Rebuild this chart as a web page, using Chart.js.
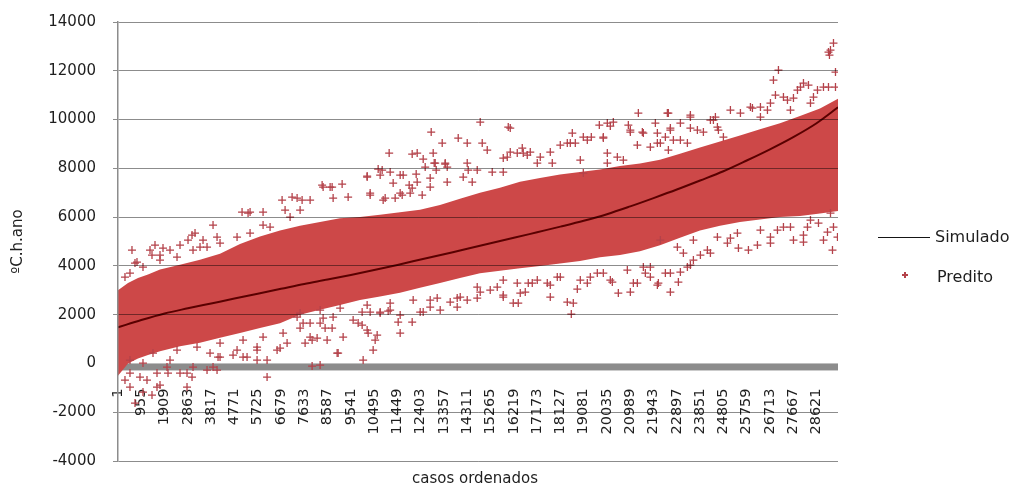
<!DOCTYPE html>
<html lang="pt">
<head>
<meta charset="utf-8">
<title>Simulado x Predito – casos ordenados</title>
<script src="https://cdn.jsdelivr.net/npm/chart.js@4.4.1/dist/chart.umd.min.js"></script>
<style>
  html, body { margin: 0; padding: 0; background: #fff; overflow: hidden; }
  #quadro { position: relative; width: 1013px; height: 486px; font-family: 'DejaVu Sans', sans-serif; color: #1e1e1e; }
  #grafico { position: absolute; left: 0; top: 0; }
  .rotulo { position: absolute; white-space: nowrap; }
  .leg-texto { font-size: 16px; line-height: 19px; }
  #leg-linha { position: absolute; left: 878px; top: 237px; width: 52px; border-top: 1.6px solid #151515; }
  #leg-cruz { position: absolute; left: 902px; top: 272px; width: 6px; height: 6px; }
  #leg-cruz::before, #leg-cruz::after { content: ''; position: absolute; background: #b4424a; }
  #leg-cruz::before { left: 0; top: 2.4px; width: 6px; height: 1.3px; }
  #leg-cruz::after { left: 2.4px; top: 0; width: 1.3px; height: 6px; }
  #titulo-x { left: 475px; top: 469px; transform: translateX(-50%); font-size: 15px; line-height: 18px; }
</style>
</head>
<body>
<div id="quadro">
  <canvas id="grafico" width="1013" height="486"></canvas>
  <div id="leg-linha"></div>
  <div class="rotulo leg-texto" style="left:935px; top:227px">Simulado</div>
  <div id="leg-cruz"></div>
  <div class="rotulo leg-texto" style="left:937px; top:267px">Predito</div>
  <div class="rotulo" id="titulo-x">casos ordenados</div>
</div>
<script>
// Casos com rótulo no eixo horizontal (um a cada 954 casos)
const ticksCasos = [1, 955, 1909, 2863, 3817, 4771, 5725, 6679, 7633, 8587, 9541,
  10495, 11449, 12403, 13357, 14311, 15265, 16219, 17173, 18127, 19081, 20035,
  20989, 21943, 22897, 23851, 24805, 25759, 26713, 27667, 28621];
const totalCasos = 29500;

// Curva simulada (ºC.h.ano) lida nos casos marcados e no último caso
const simuladoCasos = [1, 955, 1909, 2863, 3817, 4771, 5725, 6679, 7633, 8587, 9541,
  10495, 11449, 12403, 13357, 14311, 15265, 16219, 17173, 18127, 19081, 20035,
  20989, 21943, 22897, 23851, 24805, 25759, 26713, 27667, 28621, 29500];
const simuladoValores = [1480, 1780, 2050, 2260, 2460, 2660, 2860, 3060, 3260, 3440, 3630,
  3830, 4040, 4260, 4480, 4700, 4930, 5150, 5380, 5610, 5850, 6120,
  6440, 6780, 7130, 7500, 7880, 8320, 8780, 9280, 9850, 10500];

// Núcleo denso da nuvem de valores preditos: limites inferior e superior
const faixaCasos = [1, 411, 820, 1230, 1722, 2541, 3360, 4180, 5000, 5818, 6638, 7457,
  8277, 9096, 9916, 10735, 11555, 12374, 13193, 14013, 14832, 15651, 16471, 17290,
  18110, 18929, 19748, 20568, 21387, 22207, 23026, 23845, 24665, 25484, 26304, 27123,
  27942, 28762, 29500];
const faixaSuperior = [3000, 3300, 3500, 3650, 3850, 4050, 4250, 4500, 4900, 5200, 5450, 5650,
  5800, 5950, 6000, 6100, 6200, 6300, 6500, 6750, 7000, 7200, 7450, 7600,
  7750, 7850, 7950, 8100, 8200, 8350, 8600, 8850, 9100, 9350, 9600, 9850,
  10150, 10450, 10850];
const faixaInferior = [-500, 0, 200, 350, 500, 700, 850, 1050, 1250, 1450, 1650, 2000,
  2200, 2400, 2600, 2750, 2900, 3100, 3300, 3500, 3700, 3800, 3900, 4000,
  4100, 4200, 4350, 4450, 4600, 4850, 5150, 5450, 5650, 5800, 5900, 6000,
  6050, 6150, 6250];

// Valores preditos isolados em torno do núcleo: [caso, ºC.h.ano]
const preditoPontos = [
  [8364,7314],[8692,7232],[6724,6699],[7134,6822],[7544,6699],[7872,6699],[5084,6207],[5330,6166],
  [5945,6207],[6847,6289],[7462,6289],[3895,5674],[3034,5264],[5412,6207],[3157,5346],[2870,5059],
  [3485,5059],[4059,5182],[1517,4854],[1312,4649],[2132,4649],[1845,4731],[574,4649],[697,4116],
  [287,3542],[779,4157],[1394,4444],[1722,4444],[2542,4854],[3362,4772],
  [6519,549],[6929,836],[6109,139],[5699,139],[5125,262],[4182,262],[4059,-271],[3649,-271],
  [3075,-148],[2829,-394],[2050,-394],[1599,-394],[1189,-681],[902,-558],[492,-394],[287,-681],
  [492,-968],[1599,-968],[6109,-558],[1722,-886],[1025,-1173],[697,-1624],[1394,-1296],[2829,-968],
  [3895,-148],[4100,262],[4715,344],[5289,262],[5699,672],[6642,631],[7954,-107],[8282,-66],
  [8569,959],[8979,426],[7872,1082],[7462,1451],[8282,1656],[3034,-558],[2542,-394],[2009,-148],
  [14842,9897],[15990,9692],[12833,9487],[13940,9241],[14309,9036],[13284,9036],[14924,9036],[15129,8749],
  [11111,8626],[12054,8585],[12259,8626],[12505,8380],[12915,8626],[12956,8216],[13407,8175],[13038,7929],
  [10209,7683],[10660,7970],[10824,7929],[11562,7724],[12218,7765],[11275,7396],[11931,7314],[12792,7601],
  [14309,8216],[14350,7929],[14719,7929],[15334,7847],[15785,7847],[15949,8462],[16359,8626],[16769,8544],
  [16564,8831],[17712,8667],[18122,8954],[18409,9036],[18737,9036],[18614,9446],[19065,9282],[19393,9282],
  [19885,9282],[19721,9774],[20172,9733],[20295,9897],[20910,9774],[20992,9487],[21484,9487],[21320,10266],
  [22509,10266],[22017,9856],[22099,9446],[9184,7355],[8774,7232],[10332,6904],[10865,6699],[11357,6781],
  [11644,6904],[11972,6986],[12464,6904],[13489,8052],[16072,8667],[16892,8667],[17302,8462],[17794,8216],
  [19065,7806],[20049,8626],[20049,8216],[20705,8339],[21812,8872],[22222,9036],
  [29110,12767],[29315,13136],[29192,12849],[29150,12644],[27060,12029],[29397,11947],[26855,11619],[28085,11496],
  [28290,11414],[27839,11209],[28659,11209],[28905,11332],[29110,11332],[29397,11332],[26937,11004],[27265,10922],
  [27429,10799],[27675,10881],[28495,10922],[26322,10512],[25994,10471],[26609,10389],[25092,10389],[25502,10266],
  [23452,10184],[22550,10266],[24477,10102],[24272,9979],[23042,9856],[23452,9651],[22632,9651],[22427,9282],
  [22755,9159],[23329,9036],[23985,9487],[24600,9569],[24805,9282],[22550,8749],
  [8774,1451],[9225,1082],[9020,426],[10045,139],[10455,549],[10004,1574],[9635,1779],[10209,1369],
  [10619,1164],[11480,1697],[12054,1697],[11562,1246],[10742,2107],[10332,2107],[11070,2148],[11562,1984],
  [12382,2107],[13202,2189],[12792,2599],[13899,2681],[14309,2599],[14719,2681],[15785,2804],[16195,2476],
  [16400,2476],[14842,2927],[15539,3132],[16359,3296],[16810,3296],[17589,3296],[18409,2517],[18655,2476],
  [18573,2025],[18819,3050],[19229,3296],[19639,3706],[20254,3337],[20500,2886],[20992,2927],[21115,3296],
  [21607,3706],[22140,3296],[22632,3706],[18122,3542],[7667,836],[7954,959],[8159,1041],[8487,1451],
  [9840,1656],[10250,1246],[10537,959],[12505,2107],[13612,2517],[7585,1656],[7339,1902],[8405,1861],
  [11152,2189],[10004,2107],[15785,2722],[16687,2927],[16974,3296],[17712,3214],[19352,3542],[20172,3419],
  [21279,3296],[21812,3542],[21525,3952],
  [22632,2927],[22960,3337],[23042,3747],[22427,3706],[23329,3952],[23575,4239],[23862,4444],[28085,4977],
  [25420,4731],[25830,4649],[26199,4854],[22099,3214],[23452,4034],[24149,4649],[25092,5141],[26732,5182],
  [27019,5469],[27265,5592],[28085,5264],[28372,5879],[29069,5387],[29192,6166],[28700,5756],
  [7339,6781],[8815,6781],[9430,6822],[10332,6986],[10947,6781],[11562,6986],[12054,7191],[12792,7232],
  [13489,7437],[14145,7642],[14514,7437],[8405,7232],[10742,7724],[11152,7847],[11685,7724],[12259,7437],
  [12587,8052],[12997,8216],[13407,8216],[10209,7642],
  [16072,9651],[15785,8421],[16605,8626],[18532,9036],[19229,9159],[19885,9241],[20049,9856],[20992,9569],
  [21279,8954],[21525,9446],[20459,8462],[18942,8339],[17179,8216],
  [14719,3132],[15252,3009],[15785,3419],[17179,3419],[17999,3542],[18942,3419],[19885,3706],[20869,3829],
  [21812,3952],[16482,2886],[17712,2722],
  [23452,10102],[24395,9979],[25912,10512],[26732,10676],[27962,11332],[22632,9569],[23739,9569],[24559,9692],
  [26322,10102],[27552,10389],[28372,10676],[22099,9036],[23042,9159],
  [22222,5059],[22919,4772],[23575,5059],[24559,5182],[25379,5346],[26322,5469],[27552,5592],[28249,5592],
  [29315,5592],[29479,5182],[23165,4526],[24272,4526],[24969,4936],[26732,4936],[27675,5059],[28905,5059],
  [29274,4649],
  [1722,4239],[3075,4649],[4182,4936],[5412,5346],[6232,5592],[7052,6002],[492,3706],[1025,3952],
  [2419,4362],[3649,4772],[4879,5182],[5945,5674],
  [492,139],[1435,426],[2419,549],[3239,672],[4182,836],[5125,959],[5945,1082],[6765,1246],
  [1025,16],[2132,139],[3772,426],[4879,549],[5699,549],
  [7462,2066],[8282,2189],[9102,2271],[10209,2394],[11152,2476],[12095,2599],[13079,2681],[14022,2722],
  [7872,1656],[8815,1902],[10742,2066],[12792,2312],[13899,2312]
];

const corPredito = '#cd4848';
const corCruz = '#b4424a';
const corSimulado = '#5a0000';

// Eixo horizontal cinza e espesso sobre o valor zero, desenhado sob as séries
const eixoZero = {
  id: 'eixoZero',
  beforeDatasetsDraw(chart) {
    const { ctx, chartArea: a, scales } = chart;
    const y0 = scales.y.getPixelForValue(0);
    ctx.save();
    ctx.fillStyle = '#8c8c8c';
    ctx.fillRect(a.left, y0, a.right - a.left, 7);
    ctx.restore();
  }
};

const fonte = (size) => ({ family: 'DejaVu Sans', size });

new Chart(document.getElementById('grafico'), {
  type: 'scatter',
  data: {
    datasets: [
      {
        label: 'Predito (limite inferior)',
        type: 'line',
        data: faixaCasos.map((c, i) => ({ x: c, y: faixaInferior[i] })),
        pointRadius: 0, borderWidth: 0, fill: false, order: 3
      },
      {
        label: 'Predito (núcleo)',
        type: 'line',
        data: faixaCasos.map((c, i) => ({ x: c, y: faixaSuperior[i] })),
        pointRadius: 0, borderWidth: 0, borderColor: corPredito,
        backgroundColor: corPredito, fill: '-1', order: 2
      },
      {
        label: 'Predito',
        data: preditoPontos.map(([x, y]) => ({ x, y })),
        pointStyle: 'cross', pointRadius: 4, borderColor: corCruz,
        backgroundColor: corCruz, borderWidth: 1.3, order: 1
      },
      {
        label: 'Simulado',
        type: 'line',
        data: simuladoCasos.map((c, i) => ({ x: c, y: simuladoValores[i] })),
        borderColor: corSimulado, borderWidth: 2, pointRadius: 0,
        cubicInterpolationMode: 'monotone', fill: false, order: 0
      }
    ]
  },
  options: {
    responsive: false,
    animation: false,
    devicePixelRatio: 1,
    events: [],
    layout: { padding: { top: 22, right: 175, bottom: 25, left: 0 } },
    plugins: { legend: { display: false }, tooltip: { enabled: false } },
    scales: {
      x: {
        type: 'linear',
        position: { y: 0 },
        min: 1,
        max: totalCasos,
        afterBuildTicks: (s) => { s.ticks = ticksCasos.map((v) => ({ value: v })); },
        grid: { display: false, drawTicks: false },
        border: { display: false },
        ticks: {
          autoSkip: false, minRotation: 90, maxRotation: 90, padding: 25,
          font: fonte(14.5), color: '#1e1e1e',
          callback: (v) => String(v)
        }
      },
      y: {
        min: -4000,
        max: 14000,
        afterFit: (s) => { s.width = 118; s.paddingTop = 0; s.paddingBottom = 0; },
        ticks: {
          stepSize: 2000, padding: 17, font: fonte(15), color: '#1e1e1e',
          callback: (v) => String(v)
        },
        grid: {
          color: (c) => (c.tick && c.tick.value === 0 ? 'rgba(0,0,0,0)' : 'rgba(0,0,0,0.45)'),
          tickLength: 5,
          z: 1
        },
        border: { color: '#8c8c8c', width: 1.5, z: 1 },
        title: {
          display: true, text: 'ºC.h.ano', font: fonte(15), color: '#1e1e1e',
          padding: { top: 9, bottom: 0 }
        }
      }
    }
  },
  plugins: [eixoZero]
});
</script>
</body>
</html>
